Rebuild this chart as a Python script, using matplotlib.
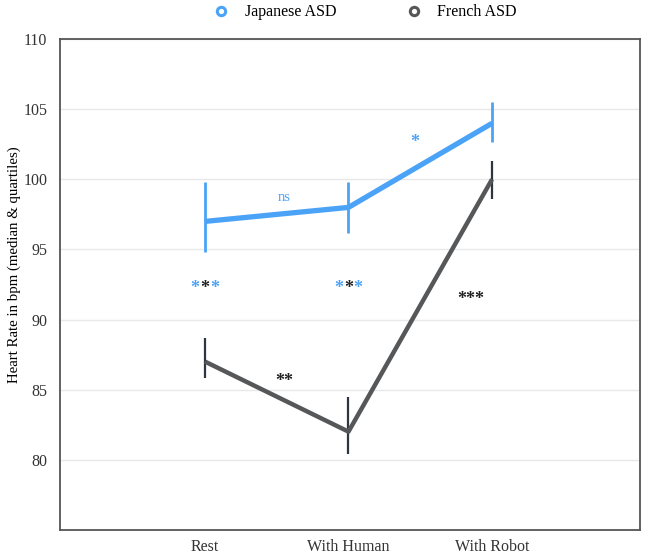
import matplotlib.pyplot as plt
from matplotlib.lines import Line2D

plt.rcParams['font.family'] = ['Liberation Serif', 'DejaVu Serif']

# Datos
conditions = ["Rest", "With Human", "With Robot"]
jp_median = [97.0, 98.0, 104.0]
jp_low = [94.8, 96.2, 102.7]
jp_high = [99.8, 99.8, 105.5]
fr_median = [87.0, 82.0, 100.0]
fr_low = [85.8, 80.4, 98.6]
fr_high = [88.7, 84.5, 101.3]

blue = "#4ba3f7"
gray = "#555759"
dark = "#2f3540"

x = list(range(len(conditions)))

fig = plt.figure(figsize=(6.45, 5.6), dpi=100)
ax = fig.add_axes([0.093, 0.054, 0.899, 0.876])

# grid
for v in range(80, 111, 5):
    ax.axhline(v, color="#e8e8e8", lw=1, zorder=0)

# error bars (quartiles)
ax.vlines(x, jp_low, jp_high, color=blue, lw=2, zorder=2)
ax.vlines(x, fr_low, fr_high, color=dark, lw=1.6, zorder=2)

# medians
ax.plot(x, jp_median, color=blue, lw=3.8, solid_capstyle="butt", zorder=3)
ax.plot(x, fr_median, color=gray, lw=3.2, solid_capstyle="butt", zorder=3)

# significance marks
star_kw = dict(ha="center", va="center", fontsize=13, fontweight="bold")
for xi, yv in [(0, 92.2), (1, 92.2)]:
    ax.annotate("*", (xi, yv), xytext=(-7, 0), textcoords="offset points", color=blue, **star_kw)
    ax.annotate("*", (xi, yv), xytext=(0, 0), textcoords="offset points", color="#222222", **star_kw)
    ax.annotate("*", (xi, yv), xytext=(7, 0), textcoords="offset points", color=blue, **star_kw)
ax.text(0.55, 98.7, "ns", color=blue, ha="center", va="center", fontsize=10.5)
ax.text(1.46, 102.6, "*", color=blue, **star_kw)
ax.text(0.55, 85.6, "**", color="#222222", **star_kw)
ax.text(1.85, 91.4, "***", color="#222222", **star_kw)

ax.set_xlim(-1.01, 3.03)
ax.set_ylim(75, 110)
ax.set_xticks(x)
ax.set_xticklabels(conditions, fontsize=11.5)
ax.set_yticks(range(80, 111, 5))
ax.tick_params(length=0, labelsize=11.5, colors="#333333", pad=9)
ax.tick_params(axis="x", pad=7)
ax.set_ylabel("Heart Rate in bpm (median & quartiles)", fontsize=10.7)
ax.yaxis.set_label_coords(-0.068, 0.54)
for s in ax.spines.values():
    s.set_color("#555555")
    s.set_linewidth(1.3)

handles = [
    Line2D([], [], ls="none", marker="o", mfc="white", mec=blue, mew=2.2, ms=6, label="Japanese ASD"),
    Line2D([], [], ls="none", marker="o", mfc="white", mec=gray, mew=2.2, ms=6, label="French ASD"),
]
fig.legend(handles=handles, loc="center", bbox_to_anchor=(0.56, 0.978), ncol=2,
           frameon=False, fontsize=11.5, columnspacing=3.8, handletextpad=0.5)

plt.savefig("out.png", dpi=100)
